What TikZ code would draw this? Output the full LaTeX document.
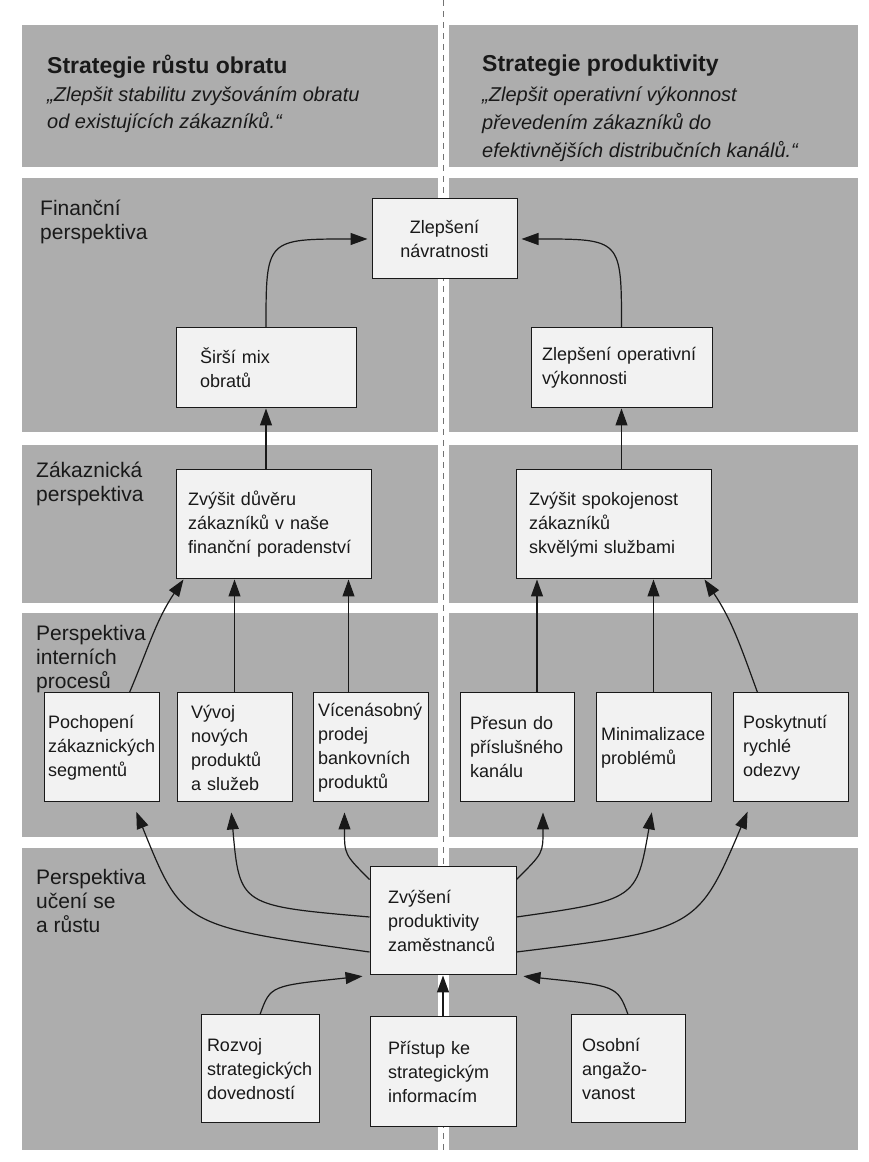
\documentclass[tikz,border=0pt]{standalone}
\usepackage{fontspec}
\setmainfont{Liberation Sans}
\usetikzlibrary{arrows.meta}

\definecolor{panel}{gray}{0.68}
\definecolor{boxfill}{gray}{0.95}
\definecolor{ink}{gray}{0.1}
\definecolor{dashgray}{gray}{0.45}
\newcommand{\boxfont}{\fontsize{18}{24}\selectfont}
\newcommand{\levelfont}{\fontsize{21}{24}\selectfont}

\begin{document}
\begin{tikzpicture}[x=1pt,y=1pt,
    card/.style={draw=ink, fill=boxfill, line width=1pt, font=\boxfont, text=ink, align=left, inner ysep=0pt},
    level/.style={anchor=north west, inner sep=0pt, align=left, font=\levelfont, text=ink},
    arr/.style={draw=ink, line width=1.2pt, -{Triangle[length=17pt,width=12pt]}}]
    \useasboundingbox (0,0) rectangle (869,1162);

    % grey bands, left and right half
    \foreach \lo/\hi in {995/1137, 730/984, 559/717, 325/549, 12/314} {
        \fill[panel] (22,\lo) rectangle (438,\hi);
        \fill[panel] (449,\lo) rectangle (858,\hi);
    }
    \draw[dashgray, line width=1pt, dash pattern=on 6pt off 5pt] (443.5,1162) -- (443.5,8);

    % strategy headers
    \node[anchor=north west, inner sep=0pt, text=ink, font=\bfseries\fontsize{23}{27}\selectfont] (lefttitle) at (47,1107) {Strategie růstu obratu};
    \node[anchor=north west, inner sep=0pt, text=ink, align=left, font=\itshape\fontsize{20}{27}\selectfont] (leftquote) at (47,1075) {„Zlepšit stabilitu zvyšováním obratu\\od existujících zákazníků.“};
    \node[anchor=north west, inner sep=0pt, text=ink, font=\bfseries\fontsize{23}{27}\selectfont] (righttitle) at (482,1107) {Strategie produktivity};
    \node[anchor=north west, inner sep=0pt, text=ink, align=left, font=\itshape\fontsize{20}{28}\selectfont] (rightquote) at (482,1075) {„Zlepšit operativní výkonnost\\převedením zákazníků do\\efektivnějších distribučních kanálů.“};

    % perspective labels
    \node[level] (finlabel) at (40,962) {Finanční\\perspektiva};
    \node[level] (custlabel) at (36,700) {Zákaznická\\perspektiva};
    \node[level] (proclabel) at (36,537) {Perspektiva\\interních\\procesů};
    \node[level] (learnlabel) at (36,293) {Perspektiva\\učení se\\a růstu};

    % financial perspective
    \node[card, align=center, text width=129pt, inner xsep=8pt, minimum height=80pt] (zn) at (444.5,923) {Zlepšení\\návratnosti};
    \node[card, text width=132pt, inner xsep=24pt, minimum height=80pt] (mix) at (266,794) {Širší mix\\obratů};
    \node[card, text width=159pt, inner xsep=11pt, minimum height=80pt] (zo) at (621.5,794) {Zlepšení operativní\\výkonnosti};

    % customer perspective
    \node[card, text width=171pt, inner xsep=12pt, minimum height=109pt] (zd) at (273.5,637.5) {Zvýšit důvěru\\zákazníků v naše\\finanční poradenství};
    \node[card, text width=169pt, inner xsep=13pt, minimum height=109pt] (zs) at (613.5,637.5) {Zvýšit spokojenost\\zákazníků\\skvělými službami};

    % internal processes
    \node[card, text width=107pt, inner xsep=4pt, minimum height=109pt] (pch) at (101.5,414.5) {Pochopení\\zákaznických\\segmentů};
    \node[card, text width=87pt, inner xsep=14pt, minimum height=109pt] (vyv) at (234.5,414.5) {Vývoj\\nových\\produktů\\a služeb};
    \node[card, text width=105pt, inner xsep=5pt, minimum height=109pt] (vic) at (370.5,414.5) {Vícenásobný\\prodej\\bankovních\\produktů};
    \node[card, text width=94pt, inner xsep=10pt, minimum height=109pt] (pre) at (517,414.5) {Přesun do\\příslušného\\kanálu};
    \node[card, text width=105pt, inner xsep=5pt, minimum height=109pt] (mnm) at (653.5,414.5) {Minimalizace\\problémů};
    \node[card, text width=95pt, inner xsep=10pt, minimum height=109pt] (pos) at (790.5,414.5) {Poskytnutí\\rychlé\\odezvy};

    % learning and growth
    \node[card, text width=110pt, inner xsep=18pt, minimum height=108pt] (zv) at (443,241) {Zvýšení\\produktivity\\zaměstnanců};
    \node[card, text width=106pt, inner xsep=6pt, minimum height=108pt] (roz) at (260,93) {Rozvoj\\strategických\\dovedností};
    \node[card, text width=110pt, inner xsep=18pt, minimum height=110pt] (pri) at (443,90) {Přístup ke\\strategickým\\informacím};
    \node[card, text width=92pt, inner xsep=11pt, minimum height=108pt] (oso) at (628,93) {Osobní\\angažo-\\vanost};

    % arrows into the financial level
    \draw[arr, shorten >=4pt] (mix.north) .. controls (mix.north |- zn.west) .. (zn.west);
    \draw[arr, shorten >=4pt] (zo.north) .. controls (zo.north |- zn.east) .. (zn.east);
    \draw[arr] (mix.south |- zd.north) -- (mix.south);
    \draw[arr] (zo.south |- zs.north) -- (zo.south);

    % arrows into the customer level
    \coordinate (vicT) at ([xshift=-22pt]vic.north);
    \coordinate (preT) at ([xshift=20pt]pre.north);
    \draw[arr] ([xshift=28pt]pch.north) to[out=67,in=236] ([xshift=8pt]zd.south west);
    \draw[arr] (vyv.north) -- (vyv.north |- zd.south);
    \draw[arr] (vicT) -- (vicT |- zd.south);
    \draw[arr] (preT) -- (preT |- zs.south);
    \draw[arr] (mnm.north) -- (mnm.north |- zs.south);
    \draw[arr] ([xshift=-33pt]pos.north) to[out=110,in=-56] ([xshift=-7pt]zs.south east);

    % arrows into the internal level
    \draw[arr, shorten >=10pt] ([yshift=-31pt]zv.west) .. controls +(172:189) and +(-68:134) .. ([xshift=31pt]pch.south);
    \draw[arr, shorten >=10pt] ([yshift=4pt]zv.west) .. controls +(175:130) and +(-85:104) .. ([xshift=-4pt]vyv.south);
    \draw[arr, shorten >=10pt] ([yshift=-13pt]zv.north west) .. controls +(135:36) and +(-90:52) .. ([xshift=-26pt]vic.south);
    \draw[arr, shorten >=10pt] ([yshift=-13pt]zv.north east) .. controls +(45:38) and +(-90:51) .. ([xshift=26pt]pre.south);
    \draw[arr, shorten >=10pt] ([yshift=4pt]zv.east) .. controls +(8:122) and +(-100:98) .. (mnm.south);
    \draw[arr, shorten >=10pt] ([yshift=-31pt]zv.east) .. controls +(7:181) and +(-113:138) .. ([xshift=-39pt]pos.south);

    % arrows into the learning box
    \draw[arr, shorten >=7pt] (roz.north) .. controls +(70:31) and +(186:100) .. (zv.south west);
    \draw[arr] (pri.north) -- (zv.south);
    \draw[arr, shorten >=7pt] (oso.north) .. controls +(110:31) and +(-6:100) .. (zv.south east);
\end{tikzpicture}
\end{document}
